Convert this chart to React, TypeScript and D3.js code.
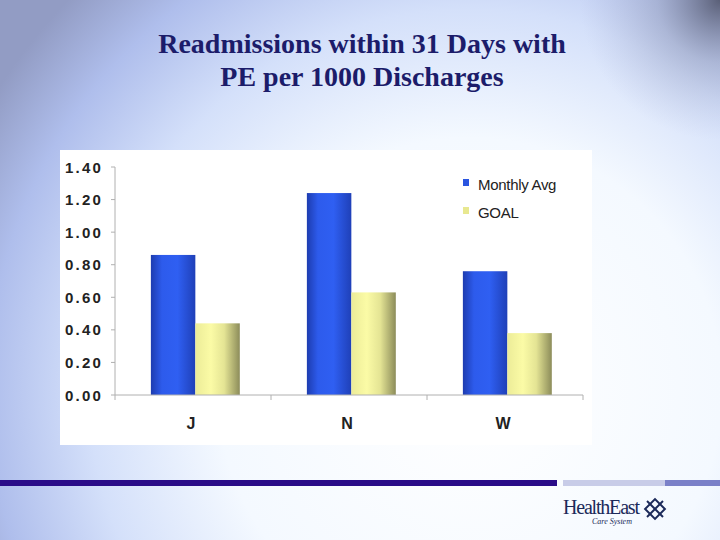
import React from "react";
import * as d3 from "d3";

const categories = ["J", "N", "W"];
const seriesNames = ["Monthly Avg", "GOAL"];
const monthlyAvg = [0.86, 1.24, 0.76];
const goal = [0.44, 0.63, 0.38];
const yTicks = [0, 0.2, 0.4, 0.6, 0.8, 1.0, 1.2, 1.4];
const titleLines = ["Readmissions within 31 Days with", "PE per 1000 Discharges"];

export default function App() {
  const W = 720, H = 540;
  const x0 = d3.scaleBand<string>().domain(categories).range([115, 583]).padding(0);
  const bw = x0.bandwidth();
  const x1 = d3.scaleBand<string>().domain(seriesNames).range([bw * 0.23, bw * 0.8]).padding(0);
  const y = d3.scaleLinear().domain([0, 1.4]).range([395, 167]);
  const values = [monthlyAvg, goal];
  const fills = ["url(#gBlue)", "url(#gGoal)"];

  return (
    <svg width={W} height={H} style={{ position: "absolute", left: 0, top: 0 }}>
      <defs>
        <radialGradient id="bg" cx="470" cy="390" r="560" gradientUnits="userSpaceOnUse">
          <stop offset="0" stopColor="#ffffff" />
          <stop offset="0.45" stopColor="#f4f9ff" />
          <stop offset="0.68" stopColor="#d4e0fa" />
          <stop offset="0.86" stopColor="#afbeec" />
          <stop offset="1" stopColor="#929cc4" />
        </radialGradient>
        <radialGradient id="corner" cx="720" cy="0" r="140" gradientUnits="userSpaceOnUse">
          <stop offset="0" stopColor="#50546a" stopOpacity="0.9" />
          <stop offset="0.45" stopColor="#8088a8" stopOpacity="0.4" />
          <stop offset="1" stopColor="#a0a8d0" stopOpacity="0" />
        </radialGradient>
        <linearGradient id="gBlue" x1="0" x2="1" y1="0" y2="0">
          <stop offset="0" stopColor="#1d3cb0" />
          <stop offset="0.25" stopColor="#2d5bec" />
          <stop offset="0.6" stopColor="#2f5ff2" />
          <stop offset="1" stopColor="#1f40b8" />
        </linearGradient>
        <linearGradient id="gGoal" x1="0" x2="1" y1="0" y2="0">
          <stop offset="0" stopColor="#ecec98" />
          <stop offset="0.35" stopColor="#fbfba6" />
          <stop offset="0.65" stopColor="#e4e494" />
          <stop offset="1" stopColor="#8c8c5a" />
        </linearGradient>
      </defs>
      <rect x={0} y={0} width={W} height={H} fill="url(#bg)" />
      <rect x={0} y={0} width={W} height={H} fill="url(#corner)" />

      {titleLines.map((t, i) => (
        <text key={i} x={362} y={53 + i * 33} textAnchor="middle"
          fontFamily="Liberation Serif, Times New Roman, serif" fontWeight="bold" fontSize={28} fill="#1c1c6a">
          {t}
        </text>
      ))}

      <rect x={60} y={150} width={532} height={295} fill="#ffffff" />

      {/* y axis */}
      <line x1={115} x2={115} y1={y(1.4)} y2={y(0)} stroke="#b0b0b0" />
      {yTicks.map((t) => (
        <g key={t}>
          <line x1={111} x2={115} y1={y(t)} y2={y(t)} stroke="#b0b0b0" />
          <text x={103} y={y(t) + 5.5} textAnchor="end" fontFamily="Arial, Liberation Sans, sans-serif"
            fontWeight="bold" fontSize={15} letterSpacing={2.2} fill="#222">
            {t.toFixed(2)}
          </text>
        </g>
      ))}

      {/* bars */}
      {categories.map((c, ci) => (
        <g key={c} transform={`translate(${x0(c)},0)`}>
          {seriesNames.map((s, si) => (
            <rect key={s} x={x1(s)} y={y(values[si][ci])} width={x1.bandwidth()}
              height={y(0) - y(values[si][ci])} fill={fills[si]} />
          ))}
        </g>
      ))}

      {/* x axis */}
      <line x1={115} x2={583} y1={y(0)} y2={y(0)} stroke="#b0b0b0" />
      {[...categories.map((c) => x0(c) as number), 583].map((v, i) => (
        <line key={i} x1={v} x2={v} y1={y(0)} y2={y(0) + 5} stroke="#b0b0b0" />
      ))}
      {categories.map((c) => (
        <text key={c} x={(x0(c) as number) + bw / 2 - 2} y={429} textAnchor="middle"
          fontFamily="Arial, Liberation Sans, sans-serif" fontWeight="bold" fontSize={16} fill="#222">
          {c}
        </text>
      ))}

      {/* legend */}
      <rect x={463} y={179} width={6} height={7} fill="#2a55e0" />
      <text x={478} y={190} fontFamily="Arial, Liberation Sans, sans-serif" fontSize={15} letterSpacing={-0.3} fill="#222">Monthly Avg</text>
      <rect x={463} y={207} width={6} height={7} fill="#e8e890" />
      <text x={478} y={218} fontFamily="Arial, Liberation Sans, sans-serif" fontSize={15} letterSpacing={-0.3} fill="#222">GOAL</text>

      {/* bottom band */}
      <rect x={0} y={480} width={557} height={6} fill="#2a0c88" />
      <rect x={563} y={480} width={102} height={6} fill="#c8cce8" />
      <rect x={665} y={480} width={55} height={6} fill="#7a80c8" />

      {/* logo */}
      <text x={563} y={514} fontFamily="Liberation Serif, Times New Roman, serif" fontSize={20} fill="#1c2a5a"
        letterSpacing={-1.2}>HealthEast</text>
      <text x={612} y={524} textAnchor="middle" fontFamily="Liberation Serif, Times New Roman, serif"
        fontStyle="italic" fontSize={8} fill="#1c2a5a">Care System</text>
      <g transform="translate(655,509)" stroke="#1c2a5a" fill="none" strokeWidth={2}>
        <rect x={-7} y={-7} width={14} height={14} transform="rotate(45)" />
        <line x1={-8} y1={-8} x2={8} y2={8} />
        <line x1={-8} y1={8} x2={8} y2={-8} />
      </g>
    </svg>
  );
}
